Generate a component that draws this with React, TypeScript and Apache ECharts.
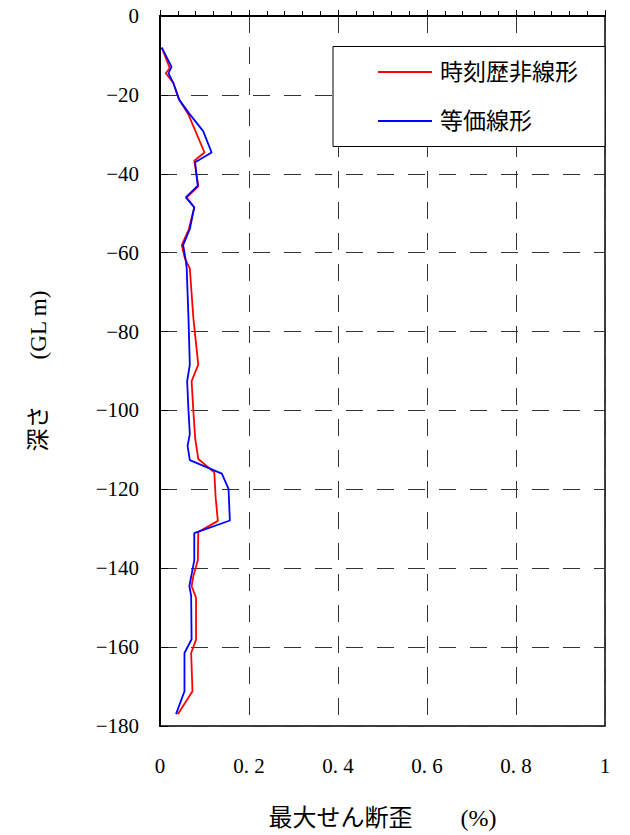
import React, { useEffect, useRef } from "react";
import * as echarts from "echarts";

// 時刻歴非線形 (red)
const nonlinearStrain = [0.004, 0.022, 0.013, 0.03, 0.043, 0.064, 0.1, 0.077, 0.082, 0.086, 0.06, 0.077, 0.065, 0.049, 0.056, 0.067, 0.075, 0.086, 0.071, 0.075, 0.079, 0.086, 0.122, 0.125, 0.13, 0.086, 0.085, 0.075, 0.071, 0.081, 0.081, 0.07, 0.073, 0.04];
const nonlinearDepth = [-8, -13.2, -14.5, -17, -21.2, -25, -34.6, -36.7, -40, -43.2, -46, -48.5, -54, -58.1, -61.5, -64, -76.6, -88.4, -92.6, -100.2, -107, -112.3, -115.7, -122, -128, -130.8, -138, -142, -144.5, -147.5, -158.1, -161.5, -171.2, -177];

// 等価線形 (blue)
const equivalentStrain = [0.004, 0.026, 0.019, 0.03, 0.043, 0.064, 0.097, 0.116, 0.079, 0.082, 0.085, 0.058, 0.077, 0.067, 0.052, 0.058, 0.06, 0.064, 0.067, 0.061, 0.064, 0.067, 0.062, 0.067, 0.139, 0.154, 0.157, 0.077, 0.077, 0.072, 0.066, 0.07, 0.071, 0.055, 0.055, 0.036];
const equivalentDepth = [-8, -12.9, -14.5, -17, -21.2, -24.5, -29.2, -34.6, -37.1, -40.5, -43, -46, -48.5, -54, -58.1, -62, -64, -76.6, -88.4, -92.6, -100, -106, -109, -112.6, -116, -119.9, -127.9, -131.1, -138, -141, -144.5, -147, -158, -161.5, -171.2, -177];

const xTickLabels: Record<string, string> = { "0": "0", "0.2": "0. 2", "0.4": "0. 4", "0.6": "0. 6", "0.8": "0. 8", "1": "1" };
const seriesNames = ["時刻歴非線形", "等価線形"];
const xAxisName = "最大せん断歪　　(%)";
const yAxisName = "深さ　　(GL m)";

const FONT = '"Liberation Serif", "DejaVu Serif", "Noto Sans CJK JP", serif';

export default function App() {
  const ref = useRef<HTMLDivElement>(null);
  useEffect(() => {
    if (!ref.current) return;
    const chart = echarts.init(ref.current, undefined, { renderer: "svg" });
    const pair = (xs: number[], ys: number[]) => xs.map((x, i) => [x, ys[i]]);
    chart.setOption({
      animation: false,
      backgroundColor: "#ffffff",
      grid: { left: 160, right: 25, top: 16, bottom: 105, show: true, borderColor: "#000", borderWidth: 1.5 },
      xAxis: {
        type: "value", min: 0, max: 1, interval: 0.2,
        name: xAxisName, nameLocation: "middle", nameGap: 80,
        nameTextStyle: { fontFamily: FONT, fontSize: 24, color: "#000" },
        axisLine: { show: true, lineStyle: { color: "#000", width: 2 } },
        axisTick: { show: true, inside: true, length: 6, lineStyle: { color: "#000" } },
        minorTick: { show: true, splitNumber: 5, length: 5, lineStyle: { color: "#000" } },
        axisLabel: {
          margin: 29, fontFamily: FONT, fontSize: 21, color: "#000",
          formatter: (v: number) => xTickLabels[String(Math.round(v * 10) / 10)] ?? String(v),
        },
        splitLine: { show: true, lineStyle: { color: "#333", type: [17, 14], width: 1 } },
      },
      yAxis: {
        type: "value", min: -180, max: 0, interval: 20,
        name: yAxisName, nameLocation: "middle", nameGap: 110, nameRotate: 90,
        nameTextStyle: { fontFamily: FONT, fontSize: 23, color: "#000" },
        axisLine: { show: true, lineStyle: { color: "#000", width: 2 } },
        axisTick: { show: true, inside: true, length: 8, lineStyle: { color: "#000" } },
        axisLabel: {
          margin: 21, fontFamily: FONT, fontSize: 21, color: "#000",
          formatter: (v: number) => (v === 0 ? "0" : "\u2212" + Math.abs(v)),
        },
        splitLine: { show: true, lineStyle: { color: "#333", type: [17, 14], width: 1 } },
      },
      legend: {
        orient: "vertical", left: 378, top: 60, padding: 0, itemGap: 25,
        itemWidth: 54, itemHeight: 2, icon: "rect",
        textStyle: { fontFamily: FONT, fontSize: 23, color: "#000", lineHeight: 24, padding: [0, 0, 0, 3] },
        data: seriesNames,
        z: 5,
      },
      graphic: [
        {
          type: "rect", z: 3,
          shape: { x: 333, y: 46.5, width: 272, height: 100 },
          style: { fill: "#fff", stroke: "#000", lineWidth: 1 },
        },
      ],
      series: [
        {
          name: seriesNames[0], type: "line", symbol: "none",
          data: pair(nonlinearStrain, nonlinearDepth),
          lineStyle: { color: "#ff0000", width: 1.8 }, itemStyle: { color: "#ff0000" }, z: 3,
        },
        {
          name: seriesNames[1], type: "line", symbol: "none",
          data: pair(equivalentStrain, equivalentDepth),
          lineStyle: { color: "#0000ff", width: 1.8 }, itemStyle: { color: "#0000ff" }, z: 4,
        },
      ],
    });
    return () => chart.dispose();
  }, []);
  return <div ref={ref} style={{ position: "fixed", left: 0, top: 0, width: 630, height: 835 }} />;
}
